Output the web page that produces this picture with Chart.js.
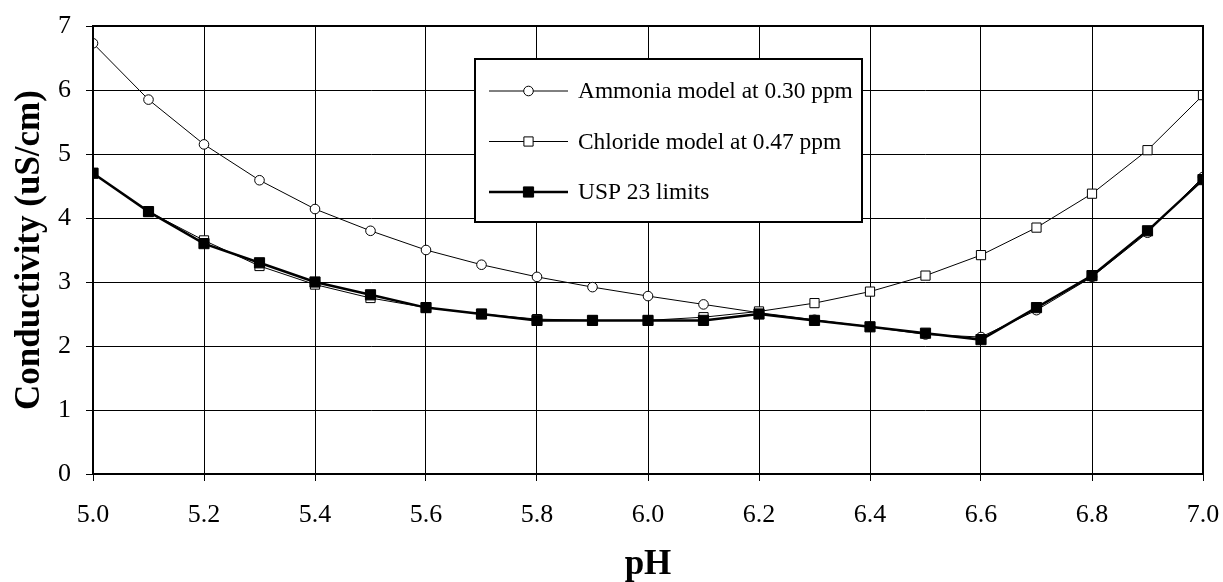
<!DOCTYPE html>
<html>
<head>
<meta charset="utf-8">
<script src="https://cdn.jsdelivr.net/npm/chart.js@4/dist/chart.umd.min.js"></script>
<style>
  html, body { margin: 0; padding: 0; background: #fff; }
  #wrap { width: 1223px; height: 582px; }
</style>
</head>
<body>
<div id="wrap"><canvas id="c" width="1223" height="582"></canvas></div>
<script>
// --- DATA ---
const phValues = [5.0, 5.1, 5.2, 5.3, 5.4, 5.5, 5.6, 5.7, 5.8, 5.9, 6.0, 6.1, 6.2, 6.3, 6.4, 6.5, 6.6, 6.7, 6.8, 6.9, 7.0];
const ammonia  = [6.73, 5.85, 5.15, 4.59, 4.14, 3.80, 3.50, 3.27, 3.08, 2.92, 2.78, 2.65, 2.52, 2.41, 2.30, 2.18, 2.14, 2.56, 3.08, 3.77, 4.64];
const chloride = [4.70, 4.10, 3.65, 3.25, 2.96, 2.75, 2.60, 2.50, 2.42, 2.40, 2.40, 2.45, 2.54, 2.67, 2.85, 3.10, 3.42, 3.85, 4.38, 5.06, 5.92];
const usp      = [4.7, 4.1, 3.6, 3.3, 3.0, 2.8, 2.6, 2.5, 2.4, 2.4, 2.4, 2.4, 2.5, 2.4, 2.3, 2.2, 2.1, 2.6, 3.1, 3.8, 4.6];
const seriesNames = ["Ammonia model at 0.30 ppm", "Chloride model at 0.47 ppm", "USP 23 limits"];
const xTitle = "pH", yTitle = "Conductivity (uS/cm)";

const FONT = "'Liberation Serif', 'Times New Roman', serif";
const pts = ys => phValues.map((x, i) => ({ x, y: ys[i] }));

// --- PLUGINS ---
const frame = {
    id: "frame",
    afterDraw(chart) {
        const { ctx, chartArea: a } = chart;
        ctx.save();
        ctx.strokeStyle = "#000"; ctx.lineWidth = 2;
        ctx.strokeRect(a.left, a.top, a.right - a.left, a.bottom - a.top);
        ctx.restore();
    }
};

// legend box drawn inside the plot like the original
const boxLegend = {
    id: "boxLegend",
    afterDraw(chart) {
        const { ctx, chartArea: a } = chart;
        const L = a.left + 382, T = a.top + 33, W = 387, H = 163;
        ctx.save();
        ctx.fillStyle = "#fff"; ctx.fillRect(L, T, W, H);
        ctx.strokeStyle = "#000"; ctx.lineWidth = 2; ctx.strokeRect(L, T, W, H);
        ctx.font = "23.4px " + FONT; ctx.textBaseline = "middle"; ctx.fillStyle = "#000";
        chart.data.datasets.forEach((ds, i) => {
            const y = T + 32 + i * 50.5, x0 = L + 14, x1 = L + 93, xm = (x0 + x1) / 2;
            ctx.beginPath(); ctx.moveTo(x0, y); ctx.lineTo(x1, y);
            ctx.lineWidth = ds.borderWidth; ctx.strokeStyle = "#000"; ctx.stroke();
            ctx.lineWidth = 1; ctx.fillStyle = ds.pointBackgroundColor;
            ctx.beginPath();
            if (ds.pointStyle === "circle") ctx.arc(xm, y, ds.pointRadius, 0, Math.PI * 2);
            else { const s = ds.pointRadius * Math.SQRT1_2; ctx.rect(xm - s, y - s, 2 * s, 2 * s); }
            ctx.fill(); ctx.stroke();
            ctx.fillStyle = "#000";
            ctx.fillText(ds.label, L + 103, y + 1);
        });
        ctx.restore();
    }
};

// --- CHART ---
new Chart(document.getElementById("c"), {
    type: "line",
    data: {
        datasets: [
            { label: seriesNames[0], data: pts(ammonia), borderColor: "#000", borderWidth: 1, pointStyle: "circle", pointRadius: 4.8, pointBackgroundColor: "#fff", pointBorderColor: "#000", pointBorderWidth: 1, order: 2 },
            { label: seriesNames[1], data: pts(chloride), borderColor: "#000", borderWidth: 1, pointStyle: "rect", pointRadius: 6.5, pointBackgroundColor: "#fff", pointBorderColor: "#000", pointBorderWidth: 1, order: 1 },
            { label: seriesNames[2], data: pts(usp), borderColor: "#000", borderWidth: 2.5, pointStyle: "rect", pointRadius: 7.2, pointBackgroundColor: "#000", pointBorderColor: "#000", pointBorderWidth: 1, order: 0 }
        ]
    },
    options: {
        responsive: false, animation: false,
        layout: { padding: { top: 26, right: 20, left: 0, bottom: 0 } },
        plugins: { legend: { display: false }, tooltip: { enabled: false } },
        elements: { line: { tension: 0 } },
        scales: {
            x: {
                type: "linear", min: 5, max: 7,
                afterFit: s => { s.height = 108; s.paddingLeft = 0; s.paddingRight = 0; },
                ticks: { stepSize: 0.2, color: "#000", padding: 19, font: { family: FONT, size: 26 }, callback: v => Number(v).toFixed(1) },
                grid: { color: "#000", lineWidth: 1, tickLength: 7, tickColor: "#000" },
                border: { color: "#000", width: 2 },
                title: { display: true, text: xTitle, color: "#000", font: { family: FONT, size: 35, weight: "bold", lineHeight: 1 }, padding: { top: 0, bottom: 0 } }
            },
            y: {
                min: 0, max: 7,
                afterFit: s => { s.width = 93; s.paddingTop = 0; s.paddingBottom = 0; },
                ticks: { stepSize: 1, color: "#000", padding: 15, font: { family: FONT, size: 26 } },
                grid: { color: "#000", lineWidth: 1, tickLength: 7, tickColor: "#000" },
                border: { color: "#000", width: 2 },
                title: { display: true, text: yTitle, color: "#000", font: { family: FONT, size: 35, weight: "bold", lineHeight: 1 }, padding: { top: 12, bottom: 0 } }
            }
        }
    },
    plugins: [frame, boxLegend]
});
</script>
</body>
</html>
